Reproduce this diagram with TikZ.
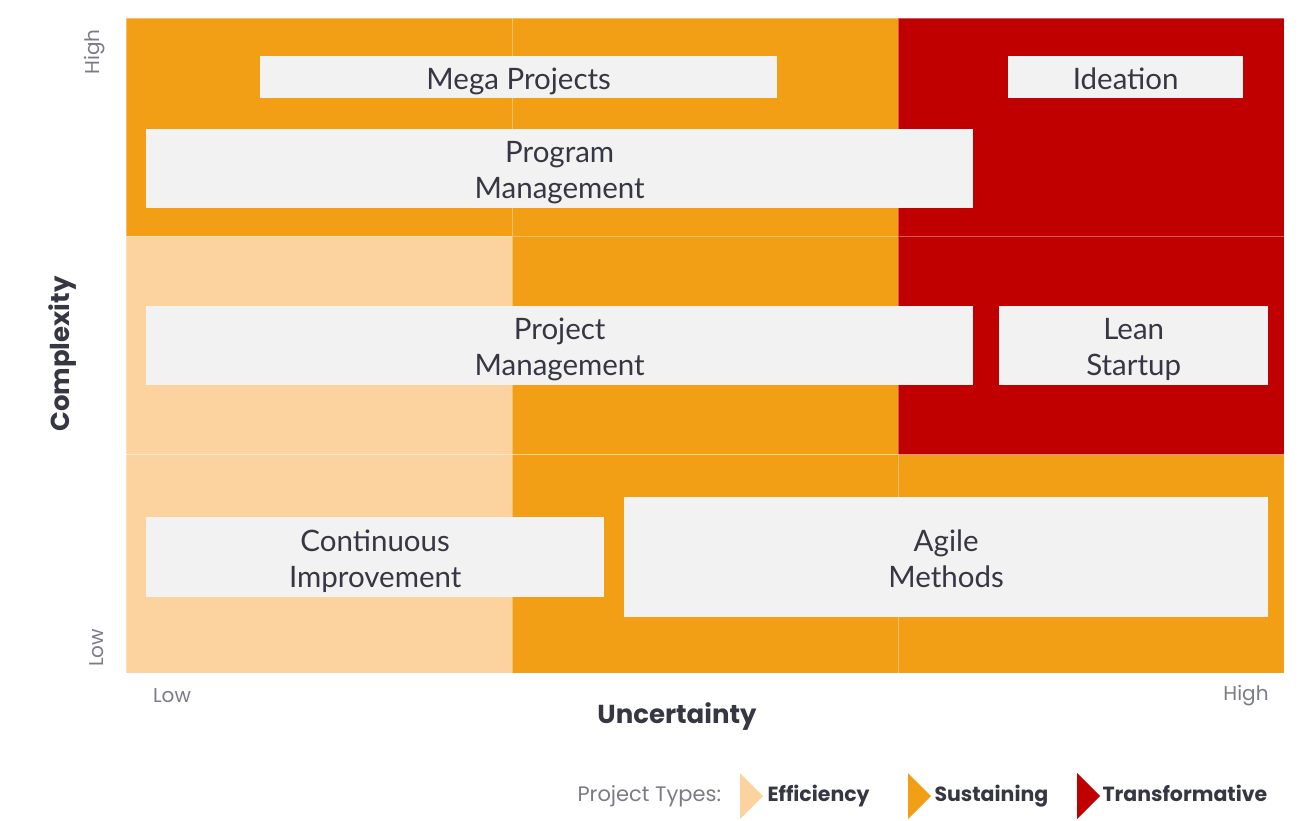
\documentclass[tikz,border=0pt]{standalone}
\usepackage{fontspec}
\setmainfont{Lato}
\setsansfont{Poppins}
\usepackage{xcolor}
\usetikzlibrary{positioning}

\definecolor{effc}{HTML}{FCD29E}
\definecolor{sust}{HTML}{F29F16}
\definecolor{trans}{HTML}{C00000}
\definecolor{boxfill}{HTML}{F2F2F2}
\definecolor{ink}{HTML}{363743}
\definecolor{tick}{HTML}{7A7B85}

\begin{document}
\begin{tikzpicture}[x=1pt, y=-1pt,
    cell/.style={rectangle, anchor=north west, inner sep=0pt, outer sep=0pt,
                 minimum width=386pt, minimum height=218.3pt,
                 draw=white, draw opacity=0.35, line width=0.6pt},
    method/.style={rectangle, anchor=north west, fill=boxfill, inner sep=0pt},
    mtext/.style={align=center, font=\fontsize{29.5}{36}\selectfont, text=ink, yshift=-5pt},
    ticklbl/.style={font=\sffamily\fontsize{20}{24}\selectfont, text=tick},
    axis/.style={font=\sffamily\bfseries\fontsize{26}{30}\selectfont, text=ink},
    legend/.style={font=\sffamily\fontsize{21}{24}\selectfont, anchor=west,
                   text height=15pt, text depth=5pt},
    legendb/.style={legend, text=ink, font=\sffamily\bfseries\fontsize{20.5}{24}\selectfont}]

\useasboundingbox (0,0) rectangle (1314,820);

% grid of project types
\node[cell, fill=sust]  (c11) at (126,18) {};
\node[cell, fill=sust]  (c12) at (512,18) {};
\node[cell, fill=trans] (c13) at (898,18) {};
\node[cell, fill=effc]  (c21) at (126,236.3) {};
\node[cell, fill=sust]  (c22) at (512,236.3) {};
\node[cell, fill=trans] (c23) at (898,236.3) {};
\node[cell, fill=effc]  (c31) at (126,454.6) {};
\node[cell, fill=sust]  (c32) at (512,454.6) {};
\node[cell, fill=sust]  (c33) at (898,454.6) {};

% methods
\node[method, minimum width=517pt, minimum height=42pt,
      label={[mtext]center:Mega Projects\strut}] (mega) at (260,56) {};
\node[method, minimum width=235pt, minimum height=42pt,
      label={[mtext]center:Ideation\strut}] (idea) at (1008,56) {};
\node[method, minimum width=827pt, minimum height=79pt,
      label={[mtext]center:Program\strut\\Management\strut}] (prog) at (146,129) {};
\node[method, minimum width=827pt, minimum height=79pt,
      label={[mtext]center:Project\strut\\Management\strut}] (proj) at (146,306) {};
\node[method, minimum width=269pt, minimum height=79pt,
      label={[mtext]center:Lean\strut\\Startup\strut}] (lean) at (999,306) {};
\node[method, minimum width=458pt, minimum height=80pt,
      label={[mtext]center:Continuous\strut\\Improvement\strut}] (cont) at (146,517) {};
\node[method, minimum width=644pt, minimum height=120pt,
      label={[mtext]center:Agile\strut\\Methods\strut}] (agile) at (624,497) {};

% axes
\node[ticklbl, rotate=90] (yhigh) at (95,52) {High};
\node[ticklbl, rotate=90] (ylow) at (97,648) {Low};
\node[ticklbl] (xlow) at (172,696) {Low};
\node[ticklbl] (xhigh) at (1246,696) {High};
\node[axis, rotate=90] (ytitle) at (63,354) {Complexity};
\node[axis] (xtitle) at (677,717) {Uncertainty};

% legend
\node[legend, text=tick] (lgd) at (574,796) {Project Types:};
\fill[effc] (740,773) -- (763,796) -- (740,819) -- cycle;
\node[legendb] (leff) at (764,796) {Efficiency};
\fill[sust] (908,773) -- (931,796) -- (908,819) -- cycle;
\node[legendb] (lsus) at (931,796) {Sustaining};
\fill[trans] (1077,773) -- (1100,796) -- (1077,819) -- cycle;
\node[legendb] (ltra) at (1099,796) {Transformative};
\end{tikzpicture}
\end{document}
